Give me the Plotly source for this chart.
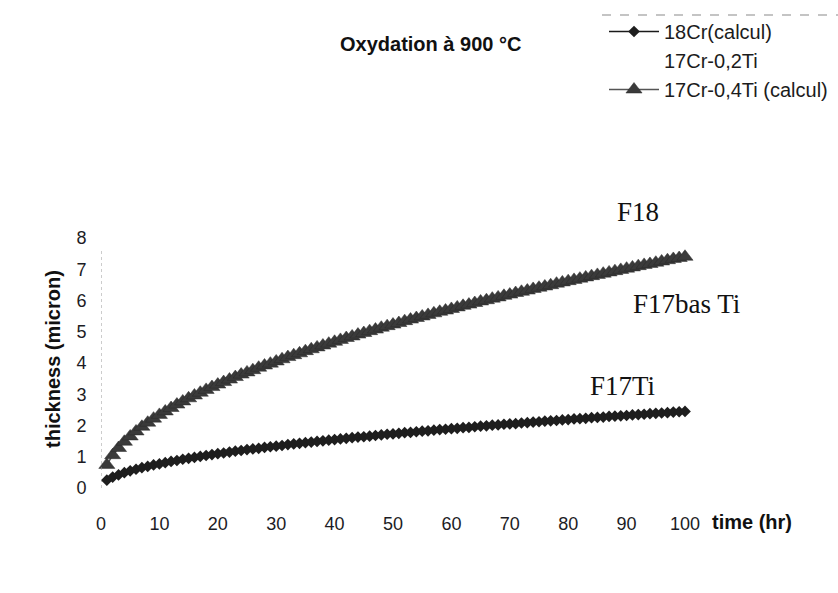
import plotly.graph_objects as go

# Oxide thickness growth at 900 °C (hours vs microns)
time_hr = list(range(1, 101))

thick_18cr = [
    0.25, 0.35, 0.42, 0.49, 0.55, 0.60, 0.65, 0.69, 0.74, 0.77,
    0.81, 0.85, 0.88, 0.92, 0.95, 0.98, 1.01, 1.04, 1.07, 1.10,
    1.12, 1.15, 1.18, 1.20, 1.23, 1.25, 1.27, 1.30, 1.32, 1.34,
    1.36, 1.39, 1.41, 1.43, 1.45, 1.47, 1.49, 1.51, 1.53, 1.55,
    1.57, 1.59, 1.61, 1.63, 1.64, 1.66, 1.68, 1.70, 1.72, 1.73,
    1.75, 1.77, 1.78, 1.80, 1.82, 1.83, 1.85, 1.87, 1.88, 1.90,
    1.91, 1.93, 1.94, 1.96, 1.98, 1.99, 2.01, 2.02, 2.04, 2.05,
    2.06, 2.08, 2.09, 2.11, 2.12, 2.14, 2.15, 2.16, 2.18, 2.19,
    2.21, 2.22, 2.23, 2.25, 2.26, 2.27, 2.29, 2.30, 2.31, 2.32,
    2.34, 2.35, 2.36, 2.38, 2.39, 2.40, 2.41, 2.43, 2.44, 2.45,
]

thick_17cr_04ti = [
    0.74, 1.05, 1.28, 1.48, 1.65, 1.81, 1.96, 2.09, 2.22, 2.34,
    2.45, 2.56, 2.67, 2.77, 2.87, 2.96, 3.05, 3.14, 3.23, 3.31,
    3.39, 3.47, 3.55, 3.63, 3.70, 3.77, 3.85, 3.92, 3.98, 4.05,
    4.12, 4.19, 4.25, 4.31, 4.38, 4.44, 4.50, 4.56, 4.62, 4.68,
    4.74, 4.80, 4.85, 4.91, 4.96, 5.02, 5.07, 5.13, 5.18, 5.23,
    5.28, 5.34, 5.39, 5.44, 5.49, 5.54, 5.59, 5.64, 5.68, 5.73,
    5.78, 5.83, 5.87, 5.92, 5.97, 6.01, 6.06, 6.10, 6.15, 6.19,
    6.24, 6.28, 6.32, 6.37, 6.41, 6.45, 6.49, 6.54, 6.58, 6.62,
    6.66, 6.70, 6.74, 6.78, 6.82, 6.86, 6.90, 6.94, 6.98, 7.02,
    7.06, 7.10, 7.14, 7.17, 7.21, 7.25, 7.29, 7.33, 7.36, 7.40,
]

series_names = ["18Cr(calcul)", "17Cr-0,2Ti", "17Cr-0,4Ti (calcul)"]
x_ticks = [0, 10, 20, 30, 40, 50, 60, 70, 80, 90, 100]
y_ticks = [0, 1, 2, 3, 4, 5, 6, 7, 8]

W, H = 838, 593
L, R, T, B = 101, 153, 238, 105
PW, PH = W - L - R, H - T - B


def px(x):
    return (x - L) / PW


def py(y):
    return (H - B - y) / PH


fig = go.Figure()

fig.add_trace(go.Scatter(
    x=time_hr, y=thick_18cr, name=series_names[0], mode="lines+markers",
    line=dict(color="#1a1a1a", width=1.5),
    marker=dict(symbol="diamond", size=9, color="#1e1e1e",
                line=dict(color="#1e1e1e", width=0)),
    cliponaxis=False,
))
fig.add_trace(go.Scatter(
    x=[None], y=[None], name=series_names[1], mode="lines",
    line=dict(color="rgba(0,0,0,0)", width=0),
))
fig.add_trace(go.Scatter(
    x=time_hr, y=thick_17cr_04ti, name=series_names[2], mode="lines+markers",
    line=dict(color="#555555", width=1.5),
    marker=dict(symbol="triangle-up", size=14, color="#3a3a3a",
                line=dict(color="#2a2a2a", width=0.5)),
    cliponaxis=False,
))

axis_font = dict(family="Arial, Liberation Sans, sans-serif", size=18, color="#1c1c24")

fig.update_layout(
    width=W, height=H,
    margin=dict(l=L, r=R, t=T, b=B, autoexpand=False),
    paper_bgcolor="white", plot_bgcolor="white",
    showlegend=True,
    legend=dict(
        x=px(604), y=py(12), xanchor="left", yanchor="top",
        font=dict(family="Arial, Liberation Sans, sans-serif", size=20, color="#1c1c1c"),
        itemwidth=50, tracegroupgap=0, bgcolor="rgba(0,0,0,0)",
    ),
    xaxis=dict(
        range=[0, 100], tickvals=x_ticks, ticktext=[str(v) for v in x_ticks],
        showgrid=False, zeroline=False, showline=False,
        ticks="outside", ticklen=19, tickcolor="rgba(0,0,0,0)",
        tickfont=axis_font,
    ),
    yaxis=dict(
        range=[0, 8], tickvals=y_ticks, ticktext=[str(v) for v in y_ticks],
        showgrid=False, zeroline=False, showline=False,
        ticks="outside", ticklen=10, tickcolor="rgba(0,0,0,0)",
        tickfont=axis_font,
    ),
)

# dotted vertical axis line
fig.add_shape(type="line", xref="x", yref="y", x0=0, x1=0, y0=0, y1=7.6,
              line=dict(color="#9a9a9a", width=1, dash="dot"))
# rule above the legend
fig.add_shape(type="line", xref="paper", yref="paper",
              x0=px(602), x1=px(838), y0=py(15), y1=py(15),
              line=dict(color="#8a8a8a", width=1.2, dash="dash"))

bold = dict(family="Arial, Liberation Sans, sans-serif", size=20, color="#111111")
serif = dict(family="Liberation Serif, Times New Roman, serif", size=27, color="#111111")

annotations = [
    dict(text="<b>Oxydation à 900 °C</b>", x=px(430), y=py(44), font=bold),
    dict(text="<b>time (hr)</b>", x=px(752), y=py(522), font=bold),
    dict(text="<b>thickness (micron)</b>", x=px(53), y=py(359), font=bold, textangle=-90),
    dict(text="F18", x=px(638), y=py(212), font=serif),
    dict(text="F17bas Ti", x=px(686), y=py(304), font=serif),
    dict(text="F17Ti", x=px(622), y=py(386), font=serif),
]
for a in annotations:
    fig.add_annotation(xref="paper", yref="paper", showarrow=False,
                       xanchor="center", yanchor="middle", **a)

fig.write_html("out.html")
